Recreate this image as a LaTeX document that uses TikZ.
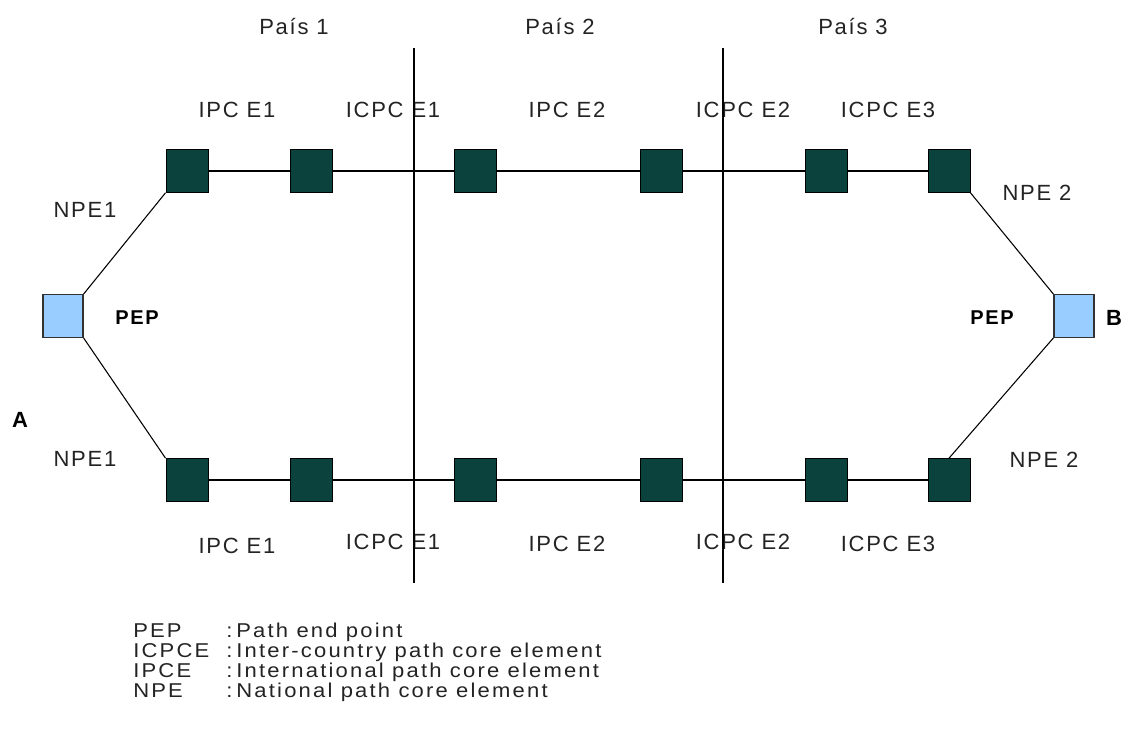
\documentclass[tikz,border=0pt]{standalone}
\usepackage{fontspec}
\setmainfont{Liberation Sans}[LetterSpace=8]
\newfontfamily\legendfont{Liberation Sans}[LetterSpace=11,FakeStretch=1.1]
\usepackage{tikz}
\usetikzlibrary{positioning,calc}

\definecolor{coredark}{RGB}{11,66,62}
\definecolor{pepblue}{RGB}{153,204,255}
\definecolor{labelgray}{RGB}{35,35,35}

\tikzset{
  core/.style={draw=black, fill=coredark, line width=0.7pt, minimum width=31.5pt, minimum height=32pt, inner sep=0pt},
  pep/.style={draw=black!80, fill=pepblue, line width=0.9pt, minimum width=30pt, minimum height=32pt, inner sep=0pt},
  lbl/.style={anchor=base, inner sep=0pt, text=labelgray, font=\fontsize{16.5}{18}\selectfont},
  boldlbl/.style={anchor=base, inner sep=0pt, font=\fontsize{15}{17}\selectfont\bfseries},
  legendtxt/.style={anchor=base west, inner sep=0pt, text=labelgray, font=\legendfont\fontsize{15}{17}\selectfont},
  wire/.style={line width=0.8pt}
}

\begin{document}
\begin{tikzpicture}[x=0.75pt, y=-0.75pt]
    \useasboundingbox (0,0) rectangle (1125,738);

    % Country headers
    \node[lbl] (pais1) at (294,35) {País 1};
    \node[lbl] (pais2) at (560,35) {País 2};
    \node[lbl] (pais3) at (853,35) {País 3};

    % Path end points
    \node[pep] (pepA) at (63,316) {};
    \node[pep] (pepB) at (1074,316) {};
    \node[boldlbl] (pepAlbl) at (137,324) {PEP};
    \node[boldlbl] (pepBlbl) at (992,324) {PEP};
    \node[boldlbl, font=\fontsize{16.5}{18}\selectfont\bfseries] (endA) at (20,427) {A};
    \node[boldlbl, font=\fontsize{16.5}{18}\selectfont\bfseries] (endB) at (1114,325) {B};

    % Upper path
    \node[core] (top1) at (187,171) {};
    \node[core] (top2) at (311,171) {};
    \node[core] (top3) at (475,171) {};
    \node[core] (top4) at (661,171) {};
    \node[core] (top5) at (826,171) {};
    \node[core] (top6) at (949,171) {};

    % Lower path
    \node[core] (bot1) at (187,480) {};
    \node[core] (bot2) at (311,480) {};
    \node[core] (bot3) at (475,480) {};
    \node[core] (bot4) at (661,480) {};
    \node[core] (bot5) at (826,480) {};
    \node[core] (bot6) at (949,480) {};

    % Links
    \draw[wire] (top1) -- (top2) -- (top3) -- (top4) -- (top5) -- (top6);
    \draw[wire] (bot1) -- (bot2) -- (bot3) -- (bot4) -- (bot5) -- (bot6);
    \draw[wire] (pepA.north east) -- (top1.south west);
    \draw[wire] (pepA.south east) -- (bot1.north west);
    \draw[wire] (pepB.north west) -- (top6.south east);
    \draw[wire] (pepB.south west) -- (bot6.north);

    % Element labels, upper path
    \node[lbl] (npe1up) at (85,218) {NPE1};
    \node[lbl] (ipce1up) at (237,118) {IPC E1};
    \node[lbl] (icpce1up) at (393,118) {ICPC E1};
    \node[lbl] (ipce2up) at (567,118) {IPC E2};
    \node[lbl] (icpce2up) at (743,118) {ICPC E2};
    \node[lbl] (icpce3up) at (888,118) {ICPC E3};
    \node[lbl] (npe2up) at (1037,200) {NPE 2};

    % Element labels, lower path
    \node[lbl] (npe1dn) at (85,466) {NPE1};
    \node[lbl] (ipce1dn) at (237,553) {IPC E1};
    \node[lbl] (icpce1dn) at (393,549) {ICPC E1};
    \node[lbl] (ipce2dn) at (567,551) {IPC E2};
    \node[lbl] (icpce2dn) at (743,549) {ICPC E2};
    \node[lbl] (icpce3dn) at (888,551) {ICPC E3};
    \node[lbl] (npe2dn) at (1044,467) {NPE 2};

    % Country borders
    \coordinate (border1top) at (414,48);
    \coordinate (border1bot) at (414,583);
    \coordinate (border2top) at (723,48);
    \coordinate (border2bot) at (723,583);
    \draw[wire] (border1top) -- (border1bot);
    \draw[wire] (border2top) -- (border2bot);

    % Legend
    \node[legendtxt] (keyPEP) at (133,637) {PEP};
    \node[legendtxt] (keyICPCE) at (133,657) {ICPCE};
    \node[legendtxt] (keyIPCE) at (133,677) {IPCE};
    \node[legendtxt] (keyNPE) at (133,697) {NPE};
    \node[legendtxt] (descPEP) at (226,637) {:\hspace{3pt}Path end point};
    \node[legendtxt] (descICPCE) at (226,657) {:\hspace{3pt}Inter-country path core element};
    \node[legendtxt] (descIPCE) at (226,677) {:\hspace{3pt}International path core element};
    \node[legendtxt] (descNPE) at (226,697) {:\hspace{3pt}National path core element};
\end{tikzpicture}
\end{document}
